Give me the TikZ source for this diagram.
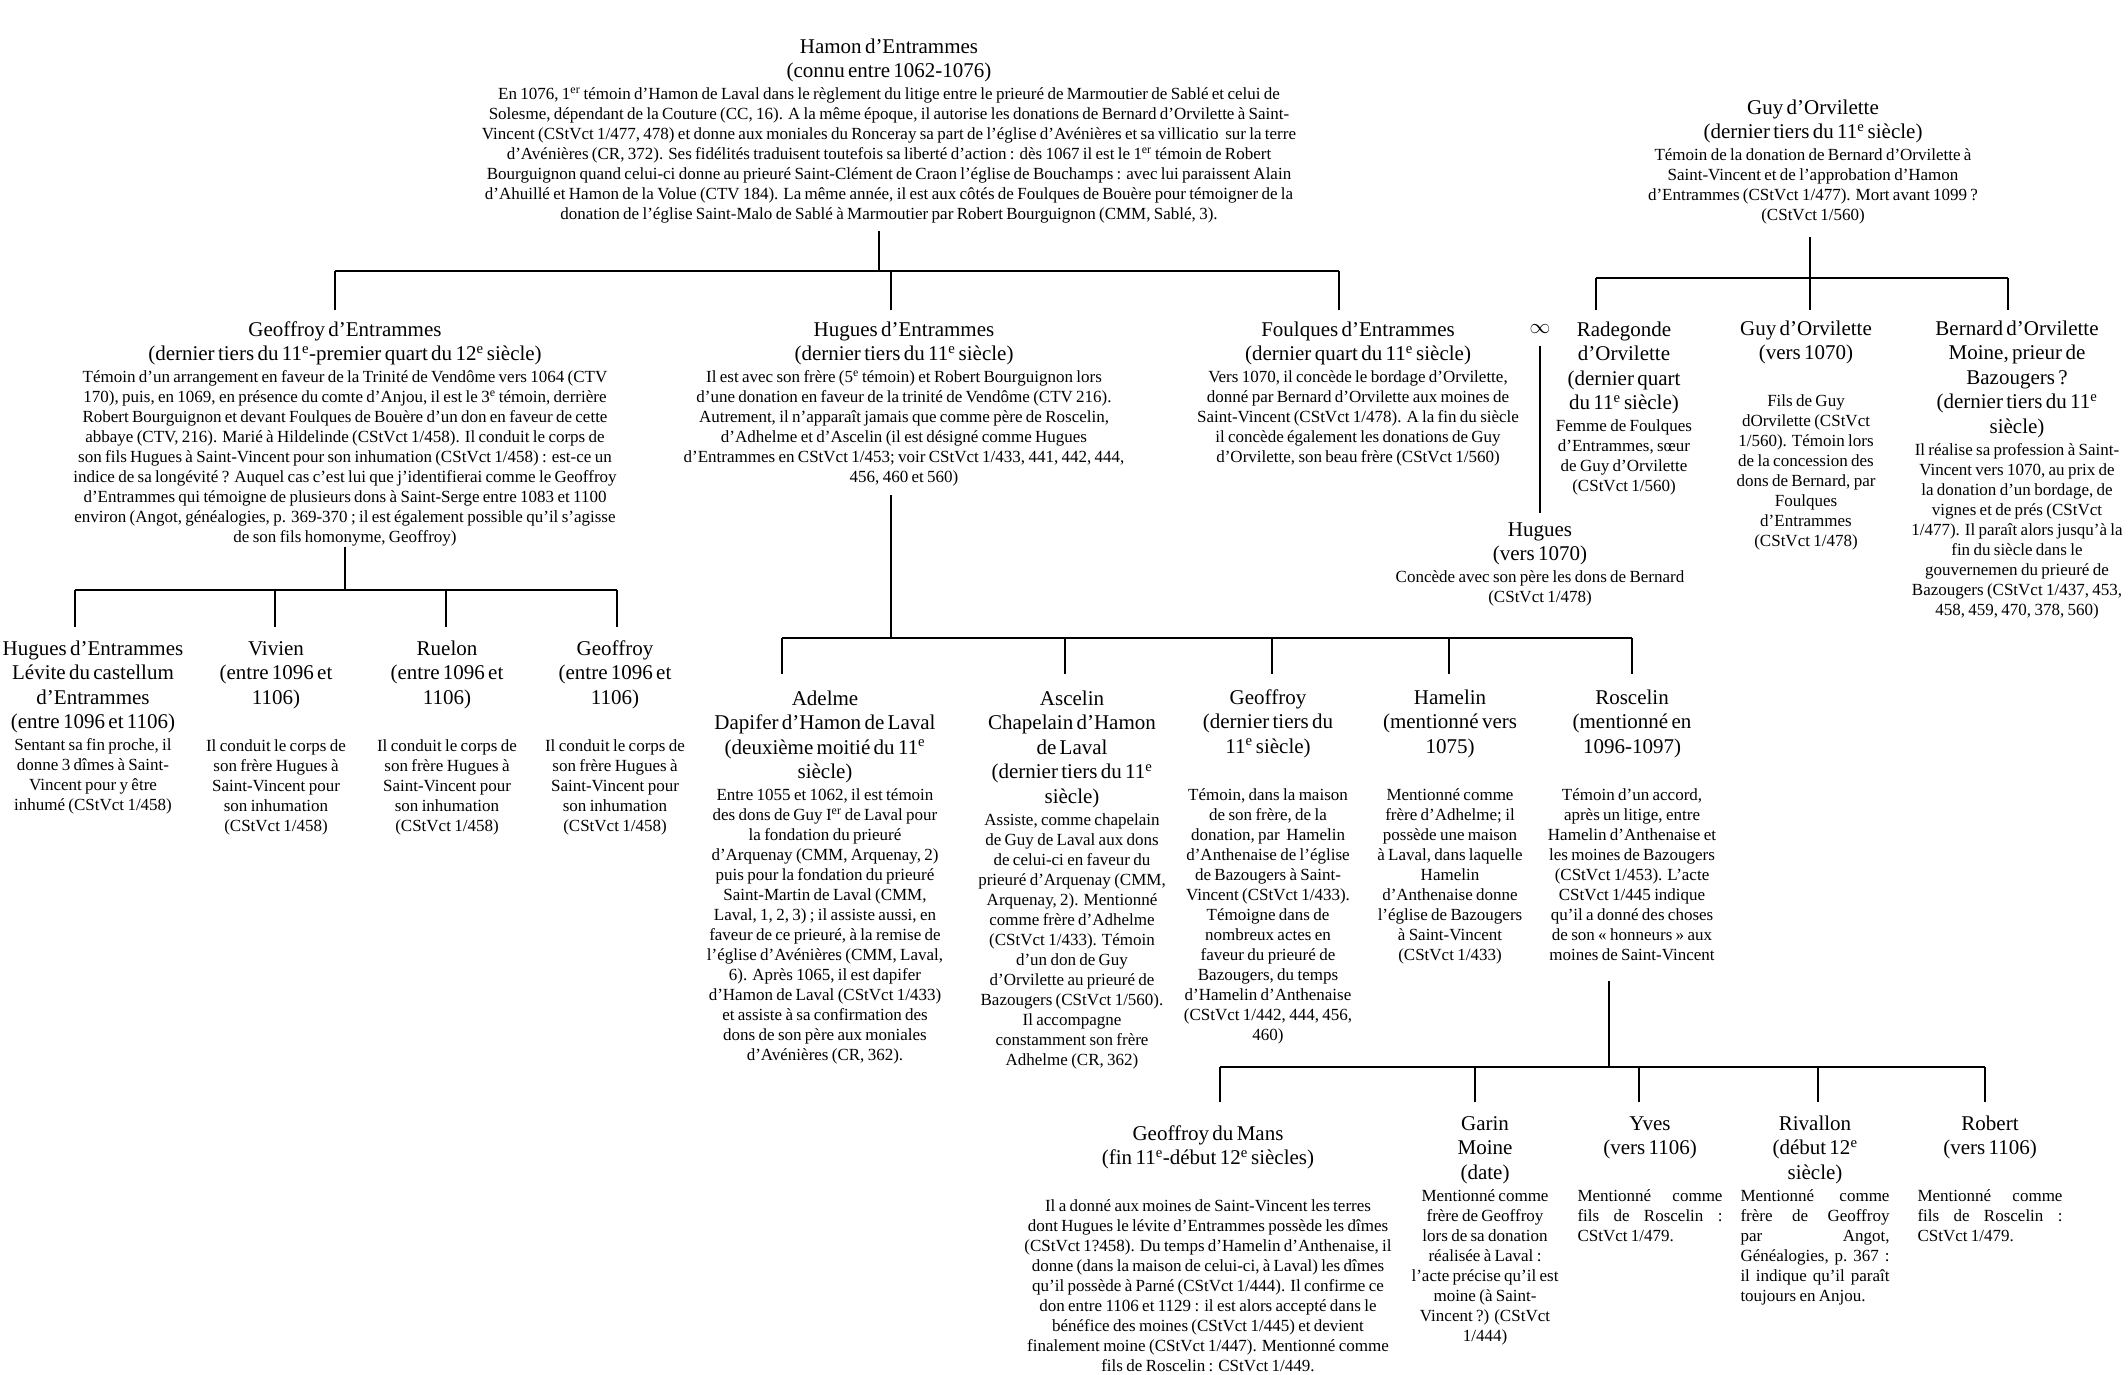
\documentclass[tikz,border=0pt]{standalone}
\usepackage{fontspec}
\setmainfont{Liberation Serif}
\newcommand{\gH}{\fontsize{21}{24.5}\selectfont\strut}
\newcommand{\gB}{\par\vspace{2pt}\fontsize{17}{20}\selectfont}
\newcommand{\gBB}{\par\vspace{27pt}\fontsize{17}{20}\selectfont}
\newcommand{\sxp}[1]{\textsuperscript{#1}}
\newcommand{\jl}[2]{\makebox[#1]{#2}}
\begin{document}
\begin{tikzpicture}[x=1pt,y=-1pt,
  person/.style={anchor=north, align=center, inner sep=0pt, text width=#1},
  jperson/.style={anchor=north, align=left, inner sep=0pt, text width=#1},
  tree/.style={draw=black, line width=1.4pt}]
\fill[white] (0,0) rectangle (2128,1375);
\useasboundingbox (0,0) rectangle (2128,1375);

% ---------- top row ----------
\node[person=860pt] (hamon) at (889,36) {\gH Hamon d’Entrammes\\(connu entre 1062-1076)\gB
En 1076, 1\sxp{er} témoin d’Hamon de Laval dans le règlement du litige entre le prieuré de Marmoutier de Sablé et celui de\\
Solesme, dépendant de la Couture (CC, 16). A la même époque, il autorise les donations de Bernard d’Orvilette à Saint-\\
Vincent (CStVct 1/477, 478) et donne aux moniales du Ronceray sa part de l’église d’Avénières et sa villicatio\ \ sur la terre\\
d’Avénières (CR, 372). Ses fidélités traduisent toutefois sa liberté d’action : dès 1067 il est le 1\sxp{er} témoin de Robert\\
Bourguignon quand celui-ci donne au prieuré Saint-Clément de Craon l’église de Bouchamps : avec lui paraissent Alain\\
d’Ahuillé et Hamon de la Volue (CTV 184). La même année, il est aux côtés de Foulques de Bouère pour témoigner de la\\
donation de l’église Saint-Malo de Sablé à Marmoutier par Robert Bourguignon (CMM, Sablé, 3).\par};

\node[person=340pt] (guy) at (1813,97) {\gH Guy d’Orvilette\\(dernier tiers du 11\sxp{e} siècle)\gB
Témoin de la donation de Bernard d’Orvilette à\\Saint-Vincent et de l’approbation d’Hamon\\d’Entrammes (CStVct 1/477). Mort avant 1099 ?\\(CStVct 1/560)\par};

% ---------- second row ----------
\node[person=585pt] (geoffroy) at (345,319) {\gH Geoffroy d’Entrammes\\(dernier tiers du 11\sxp{e}-premier quart du 12\sxp{e} siècle)\gB
Témoin d’un arrangement en faveur de la Trinité de Vendôme vers 1064 (CTV\\
170), puis, en 1069, en présence du comte d’Anjou, il est le 3\sxp{e} témoin, derrière\\
Robert Bourguignon et devant Foulques de Bouère d’un don en faveur de cette\\
abbaye (CTV, 216). Marié à Hildelinde (CStVct 1/458). Il conduit le corps de\\
son fils Hugues à Saint-Vincent pour son inhumation (CStVct 1/458) : est-ce un\\
indice de sa longévité ? Auquel cas c’est lui que j’identifierai comme le Geoffroy\\
d’Entrammes qui témoigne de plusieurs dons à Saint-Serge entre 1083 et 1100\\
environ (Angot, généalogies, p. 369-370 ; il est également possible qu’il s’agisse\\
de son fils homonyme, Geoffroy)\par};

\node[person=465pt] (hugues) at (904,319) {\gH Hugues d’Entrammes\\(dernier tiers du 11\sxp{e} siècle)\gB
Il est avec son frère (5\sxp{e} témoin) et Robert Bourguignon lors\\
d’une donation en faveur de la trinité de Vendôme (CTV 216).\\
Autrement, il n’apparaît jamais que comme père de Roscelin,\\
d’Adhelme et d’Ascelin (il est désigné comme Hugues\\
d’Entrammes en CStVct 1/453; voir CStVct 1/433, 441, 442, 444,\\
456, 460 et 560)\par};

\node[person=355pt] (foulques) at (1358,319) {\gH Foulques d’Entrammes\\(dernier quart du 11\sxp{e} siècle)\gB
Vers 1070, il concède le bordage d’Orvilette,\\
donné par Bernard d’Orvilette aux moines de\\
Saint-Vincent (CStVct 1/478). A la fin du siècle\\
il concède également les donations de Guy\\
d’Orvilette, son beau frère (CStVct 1/560)\par};

\node[inner sep=0pt, font=\fontsize{21}{24}\selectfont] (inf) at (1540,329) {$\infty$};

\node[person=140pt] (radegonde) at (1624,319) {\gH Radegonde\\d’Orvilette\\(dernier quart\\du 11\sxp{e} siècle)\gB
Femme de Foulques\\d’Entrammes, sœur\\de Guy d’Orvilette\\(CStVct 1/560)\par};

\node[person=160pt] (guyjr) at (1806,318) {\gH Guy d’Orvilette\\(vers 1070)\gBB
Fils de Guy\\dOrvilette (CStVct\\1/560). Témoin lors\\de la concession des\\dons de Bernard, par\\Foulques\\d’Entrammes\\(CStVct 1/478)\par};

\node[person=240pt] (bernard) at (2017,318) {\gH Bernard d’Orvilette\\Moine, prieur de\\Bazougers ?\\(dernier tiers du 11\sxp{e}\\siècle)\gB
Il réalise sa profession à Saint-\\Vincent vers 1070, au prix de\\la donation d’un bordage, de\\vignes et de prés (CStVct\\1/477). Il paraît alors jusqu’à la\\fin du siècle dans le\\gouvernemen du prieuré de\\Bazougers (CStVct 1/437, 453,\\458, 459, 470, 378, 560)\par};

\node[person=300pt] (hugues2) at (1540,519) {\gH Hugues\\(vers 1070)\gB
Concède avec son père les dons de Bernard\\(CStVct 1/478)\par};

% ---------- children of Geoffroy ----------
\node[person=196pt] (hugueslev) at (93,638) {\gH Hugues d’Entrammes\\Lévite du castellum\\d’Entrammes\\(entre 1096 et 1106)\gB
Sentant sa fin proche, il\\donne 3 dîmes à Saint-\\Vincent pour y être\\inhumé (CStVct 1/458)\par};

\node[person=150pt] (vivien) at (276,638) {\gH Vivien\\(entre 1096 et\\1106)\gBB
Il conduit le corps de\\son frère Hugues à\\Saint-Vincent pour\\son inhumation\\(CStVct 1/458)\par};

\node[person=150pt] (ruelon) at (447,638) {\gH Ruelon\\(entre 1096 et\\1106)\gBB
Il conduit le corps de\\son frère Hugues à\\Saint-Vincent pour\\son inhumation\\(CStVct 1/458)\par};

\node[person=150pt] (geoffroyjr) at (615,638) {\gH Geoffroy\\(entre 1096 et\\1106)\gBB
Il conduit le corps de\\son frère Hugues à\\Saint-Vincent pour\\son inhumation\\(CStVct 1/458)\par};

% ---------- children of Hugues ----------
\node[person=248pt] (adelme) at (825,688) {\gH Adelme\\Dapifer d’Hamon de Laval\\(deuxième moitié du 11\sxp{e}\\siècle)\gB
Entre 1055 et 1062, il est témoin\\des dons de Guy I\sxp{er} de Laval pour\\la fondation du prieuré\\d’Arquenay (CMM, Arquenay, 2)\\puis pour la fondation du prieuré\\Saint-Martin de Laval (CMM,\\Laval, 1, 2, 3) ; il assiste aussi, en\\faveur de ce prieuré, à la remise de\\l’église d’Avénières (CMM, Laval,\\6). Après 1065, il est dapifer\\d’Hamon de Laval (CStVct 1/433)\\et assiste à sa confirmation des\\dons de son père aux moniales\\d’Avénières (CR, 362).\par};

\node[person=190pt] (ascelin) at (1072,688) {\gH Ascelin\\Chapelain d’Hamon\\de Laval\\(dernier tiers du 11\sxp{e}\\siècle)\gB
Assiste, comme chapelain\\de Guy de Laval aux dons\\de celui-ci en faveur du\\prieuré d’Arquenay (CMM,\\Arquenay, 2). Mentionné\\comme frère d’Adhelme\\(CStVct 1/433). Témoin\\d’un don de Guy\\d’Orvilette au prieuré de\\Bazougers (CStVct 1/560).\\Il accompagne\\constamment son frère\\Adhelme (CR, 362)\par};

\node[person=180pt] (geoffroyh) at (1268,687) {\gH Geoffroy\\(dernier tiers du\\11\sxp{e} siècle)\gBB
Témoin, dans la maison\\de son frère, de la\\donation, par\ \ Hamelin\\d’Anthenaise de l’église\\de Bazougers à Saint-\\Vincent (CStVct 1/433).\\Témoigne dans de\\nombreux actes en\\faveur du prieuré de\\Bazougers, du temps\\d’Hamelin d’Anthenaise\\(CStVct 1/442, 444, 456,\\460)\par};

\node[person=160pt] (hamelin) at (1450,687) {\gH Hamelin\\(mentionné vers\\1075)\gBB
Mentionné comme\\frère d’Adhelme; il\\possède une maison\\à Laval, dans laquelle\\Hamelin\\d’Anthenaise donne\\l’église de Bazougers\\à Saint-Vincent\\(CStVct 1/433)\par};

\node[person=180pt] (roscelin) at (1632,687) {\gH Roscelin\\(mentionné en\\1096-1097)\gBB
Témoin d’un accord,\\après un litige, entre\\Hamelin d’Anthenaise et\\les moines de Bazougers\\(CStVct 1/453). L’acte\\CStVct 1/445 indique\\qu’il a donné des choses\\de son « honneurs » aux\\moines de Saint-Vincent\par};

% ---------- children of Roscelin ----------
\node[person=370pt] (geoffroym) at (1208,1123) {\gH Geoffroy du Mans\\(fin 11\sxp{e}-début 12\sxp{e} siècles)\gBB
Il a donné aux moines de Saint-Vincent les terres\\dont Hugues le lévite d’Entrammes possède les dîmes\\(CStVct 1?458). Du temps d’Hamelin d’Anthenaise, il\\donne (dans la maison de celui-ci, à Laval) les dîmes\\qu’il possède à Parné (CStVct 1/444). Il confirme ce\\don entre 1106 et 1129 : il est alors accepté dans le\\bénéfice des moines (CStVct 1/445) et devient\\finalement moine (CStVct 1/447). Mentionné comme\\fils de Roscelin : CStVct 1/449.\par};

\node[person=160pt] (garin) at (1485,1113) {\gH Garin\\Moine\\(date)\gB
Mentionné comme\\frère de Geoffroy\\lors de sa donation\\réalisée à Laval :\\l’acte précise qu’il est\\moine (à Saint-\\Vincent ?) (CStVct\\1/444)\par};

\node[jperson=145pt] (yves) at (1650,1113) {{\centering\gH Yves\\(vers 1106)\par}\gBB
\jl{145pt}{Mentionné\hfill comme}\\\jl{145pt}{fils\hfill de\hfill Roscelin\hfill :}\\CStVct 1/479.\par};

\node[jperson=149pt] (rivallon) at (1815,1113) {{\centering\gH Rivallon\\(début 12\sxp{e}\\siècle)\par}\gB
\jl{149pt}{Mentionné\hfill comme}\\\jl{149pt}{frère\hfill de\hfill Geoffroy}\\\jl{149pt}{par\hfill Angot,}\\\jl{149pt}{Généalogies,\hfill p.\hfill 367\hfill :}\\\jl{149pt}{il\hfill indique\hfill qu’il\hfill paraît}\\toujours en Anjou.\par};

\node[jperson=145pt] (robert) at (1990,1113) {{\centering\gH Robert\\(vers 1106)\par}\gBB
\jl{145pt}{Mentionné\hfill comme}\\\jl{145pt}{fils\hfill de\hfill Roscelin\hfill :}\\CStVct 1/479.\par};

% ---------- connectors ----------
% Hamon -> sons
\coordinate (A0) at (879,271);
\coordinate (A1) at (335,271);
\coordinate (A2) at (891,271);
\coordinate (A3) at (1339,271);
\draw[tree, shorten <=7.5pt] (hamon.south -| A0) -- (A0);
\draw[tree] (A1) -- (A3);
\draw[tree, shorten >=9.5pt] (A1) -- (A1 |- geoffroy.north);
\draw[tree, shorten >=9.5pt] (A2) -- (A2 |- hugues.north);
\draw[tree, shorten >=9.5pt] (A3) -- (A3 |- foulques.north);

% Guy -> children
\coordinate (G1) at (1596,278);
\coordinate (G2) at (1810,278);
\coordinate (G3) at (2008,278);
\draw[tree, shorten <=12.5pt] (guy.south -| G2) -- (G2);
\draw[tree] (G1) -- (G3);
\draw[tree, shorten >=9.5pt] (G1) -- (G1 |- radegonde.north);
\draw[tree, shorten >=8.5pt] (G2) -- (G2 |- guyjr.north);
\draw[tree, shorten >=8.5pt] (G3) -- (G3 |- bernard.north);

% Foulques x Radegonde -> Hugues
\draw[tree, shorten <=12pt, shorten >=6.5pt] (inf.south) -- (inf.south |- hugues2.north);

% Geoffroy -> sons
\coordinate (B0) at (345,590);
\coordinate (B1) at (75,590);
\coordinate (B2) at (275,590);
\coordinate (B3) at (446,590);
\coordinate (B4) at (617,590);
\draw[tree] (geoffroy.south) -- (geoffroy.south |- B0);
\draw[tree] (B1) -- (B4);
\draw[tree, shorten >=11pt] (B1) -- (B1 |- hugueslev.north);
\draw[tree, shorten >=11pt] (B2) -- (B2 |- vivien.north);
\draw[tree, shorten >=11pt] (B3) -- (B3 |- ruelon.north);
\draw[tree, shorten >=11pt] (B4) -- (B4 |- geoffroyjr.north);

% Hugues -> sons
\coordinate (C0) at (891,638);
\coordinate (C1) at (782,638);
\coordinate (C2) at (1065,638);
\coordinate (C3) at (1272,638);
\coordinate (C4) at (1449,638);
\coordinate (C5) at (1632,638);
\draw[tree, shorten <=8.5pt] (hugues.south -| C0) -- (C0);
\draw[tree] (C1) -- (C5);
\draw[tree, shorten >=14pt] (C1) -- (C1 |- adelme.north);
\draw[tree, shorten >=14pt] (C2) -- (C2 |- ascelin.north);
\draw[tree, shorten >=13pt] (C3) -- (C3 |- geoffroyh.north);
\draw[tree, shorten >=13pt] (C4) -- (C4 |- hamelin.north);
\draw[tree, shorten >=13pt] (C5) -- (C5 |- roscelin.north);

% Roscelin -> sons
\coordinate (D0) at (1609,1067);
\coordinate (D1) at (1220,1067);
\coordinate (D2) at (1475,1067);
\coordinate (D3) at (1639,1067);
\coordinate (D4) at (1818,1067);
\coordinate (D5) at (1985,1067);
\draw[tree, shorten <=20pt] (roscelin.south -| D0) -- (D0);
\draw[tree] (D1) -- (D5);
\draw[tree, shorten >=21pt] (D1) -- (D1 |- geoffroym.north);
\draw[tree, shorten >=11pt] (D2) -- (D2 |- garin.north);
\draw[tree, shorten >=11pt] (D3) -- (D3 |- yves.north);
\draw[tree, shorten >=11pt] (D4) -- (D4 |- rivallon.north);
\draw[tree, shorten >=11pt] (D5) -- (D5 |- robert.north);
\end{tikzpicture}
\end{document}
